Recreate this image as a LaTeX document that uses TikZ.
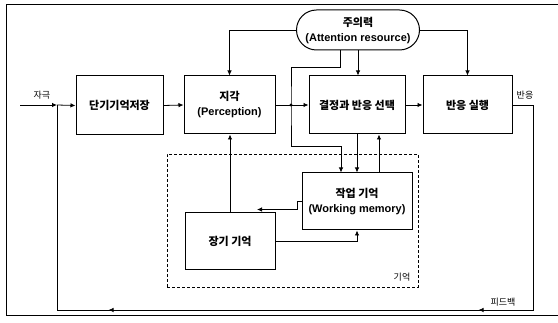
\documentclass[tikz,border=0pt]{standalone}
\usepackage{fontspec}
\setmainfont{Liberation Sans}
\newfontfamily\kr{Noto Sans CJK KR}
\usetikzlibrary{arrows.meta,decorations.markings}

\begin{document}
\begin{tikzpicture}[x=1pt,y=-1pt,
            blk/.style={draw,line width=1pt,fill=white,align=center,inner sep=0pt,font=\fontsize{11}{15}\selectfont\bfseries},
            lbl/.style={font=\fontsize{9}{11}\selectfont},
            ln/.style={line width=0.8pt},
            arr/.style={line width=0.8pt,-{Latex[length=5pt,width=4.5pt]}}]
            \useasboundingbox (0,0) rectangle (558,323);
            \draw[line width=1pt] (558,5) -- (6,5) -- (6,316) -- (558,316);

            % memory group
            \node[draw,dashed,dash pattern=on 3pt off 2pt,line width=0.8pt,minimum width=251,minimum height=133] (mem) at (292.5,220.5) {};
            \node[lbl] (memlbl) at (402,277) {\kr 기억};

            % blocks
            \node[blk,rounded corners=20pt,minimum width=123,minimum height=40] (attn) at (358,30) {{\kr 주의력}\\(Attention resource)};
            \node[blk,minimum width=87,minimum height=59] (stm) at (119.5,105.5) {\kr 단기기억저장};
            \node[blk,minimum width=91,minimum height=58] (perc) at (229.5,105) {{\kr 지각}\\(Perception)};
            \node[blk,minimum width=96,minimum height=58] (dec) at (357,105) {\kr 결정과 반응 선택};
            \node[blk,minimum width=89,minimum height=58] (resp) at (467.5,105) {\kr 반응 실행};
            \node[blk,minimum width=110,minimum height=57] (wm) at (357,201.5) {{\kr 작업 기억}\\(Working memory)};
            \node[blk,minimum width=90,minimum height=57] (ltm) at (230,241.5) {\kr 장기 기억};

            \node[lbl] (stim) at (42,95) {\kr 자극};
            \node[lbl] (resplbl) at (525,95) {\kr 반응};
            \node[lbl] (fblbl) at (503,302) {\kr 피드백};

            \coordinate (in) at (20,105);
            \coordinate (jin) at (57,105);
            \coordinate (jd) at (291,105);
            \coordinate (fbr) at (533,310);
            \coordinate (fbl) at (57,310);

            % main flow
            \draw[arr] (in) -- (jin);
            \draw[arr] (jin) -- (stm.west);
            \draw[arr] (stm.east) -- (perc.west);
            \draw[ln] (perc.east) -- (jd);
            \draw[arr] (jd) -- (dec.west);
            \fill (jd) circle (1.6);
            \draw[arr] (dec.east) -- (resp.west);
            \draw[ln,postaction=decorate,decoration={markings,
                mark=at position 280pt with {\arrow{Latex[length=5pt,width=4.5pt]}},
                mark=at position 650pt with {\arrow{Latex[length=5pt,width=4.5pt]}}}]
                (resp.east) -| (fbr) -- (fbl) -- (jin);

            % attention
            \draw[arr] (attn.west) -| (perc.north);
            \draw[arr] (attn.east) -| (resp.north);
            \draw[arr] (attn.south) -- (attn.south |- dec.north);
            \draw[arr] ([xshift=-18pt]attn.south) -- ++(0,17) -| (jd) -- ++(0,41) -| ([xshift=-16pt]wm.north);

            % memory
            \draw[arr] (dec.south) -- (wm.north);
            \draw[arr] ([xshift=22pt]wm.north) -- ([xshift=22pt]dec.south);
            \draw[arr] (ltm.north) -- (ltm.north |- perc.south);
            \draw[arr] (wm.west) -- ++(-4,0) |- ([xshift=27pt,yshift=3pt]ltm.north);
            \draw[arr] (ltm.east) -| (wm.south);
\end{tikzpicture}
\end{document}
